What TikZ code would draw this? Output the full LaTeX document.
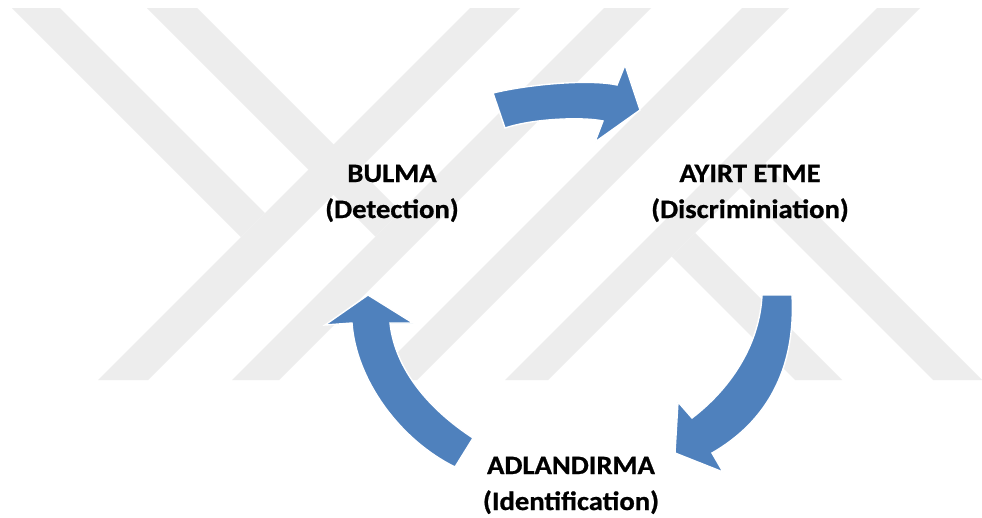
\documentclass[tikz,border=0pt]{standalone}
\usepackage{fontspec}
\setmainfont{Carlito}[FakeStretch=1.08]
\definecolor{wmgray}{RGB}{237,237,237}
\definecolor{arrowblue}{RGB}{79,129,189}
\tikzset{
  wm/.style={fill=wmgray, draw=none},
  bigarrow/.style={fill=arrowblue, draw=white, line width=1.4pt, line join=miter},
  label/.style={align=center, font=\fontsize{26.5}{36}\selectfont\bfseries\addfontfeature{FakeBold=0.8}, text=black, inner sep=0pt, anchor=base}
}
\begin{document}
\begin{tikzpicture}[x=1pt,y=-1pt]
\useasboundingbox (0,0) rectangle (982,517);
\fill[white] (0,0) rectangle (982,517);
% watermark stripes
\fill[wm] (470,8) -- (520,8) -- (148,380) -- (98,380) -- cycle;
\fill[wm] (604,8) -- (651,8) -- (279,380) -- (232,380) -- cycle;
\fill[wm] (742,8) -- (789,8) -- (417,380) -- (370,380) -- cycle;
\fill[wm] (877,8) -- (920,8) -- (548,380) -- (505,380) -- cycle;
\fill[wm] (12,8) -- (60,8) -- (265,213) -- (241,237) -- cycle;
\fill[wm] (147,8) -- (197,8) -- (400.5,211.5) -- (375.5,236.5) -- cycle;
\fill[wm] (695,233) -- (842,380) -- (795,380) -- (671.5,256.5) -- cycle;
\fill[wm] (765,163) -- (982,380) -- (933,380) -- (740.5,187.5) -- cycle;
% labels (anchor base = baseline of the last line)
\node[label] (bulma) at (392,218) {BULMA\\(Detection)};
\node[label] (ayirt) at (750,218) {AYIRT ETME\\(Discriminiation)};
\node[label] (adlandirma) at (571,510) {ADLANDIRMA\\(Identification)};
% top arrow (bulma -> ayirt)
\draw[bigarrow] (493,93) .. controls (530,84) and (590,79) .. (617,85)
  -- (625,65) -- (640,110) -- (595,142) -- (603,121)
  .. controls (585,117) and (535,118) .. (505,128) -- cycle;
% right arrow (ayirt -> adlandirma)
\draw[bigarrow] (762,295) -- (792,295)
  .. controls (796,370) and (766,422) .. (712,453)
  -- (723,472) -- (675,453) -- (678,402) -- (692,418)
  .. controls (735,385) and (760,340) .. (762,295) -- cycle;
% left arrow (adlandirma -> bulma)
\draw[bigarrow] (368,295) -- (413,323) -- (390,323)
  .. controls (395,370) and (430,410) .. (473,438)
  -- (455,467)
  .. controls (400,440) and (356,380) .. (352,323)
  -- (325,325) -- cycle;
\end{tikzpicture}
\end{document}
